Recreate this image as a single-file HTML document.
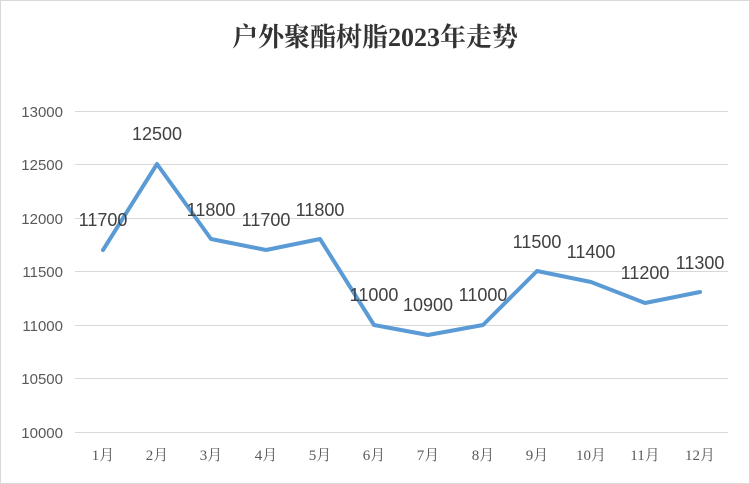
<!DOCTYPE html>
<html><head><meta charset="utf-8"><style>
body{margin:0;background:#fff}
svg{display:block}
</style></head><body>
<svg width="750" height="484" xmlns="http://www.w3.org/2000/svg" font-family="'Liberation Sans','Noto Sans CJK SC',sans-serif">
<rect x="0.5" y="0.5" width="749" height="483" fill="#fff" stroke="#d9d9d9"/>
<text x="375" y="46" text-anchor="middle" font-size="26" font-weight="bold" font-family="'Liberation Serif','Noto Serif CJK SC',serif" fill="#333">户外聚酯树脂2023年走势</text>
<g stroke="#d9d9d9" stroke-width="1">
<line x1="75" x2="728" y1="111.5" y2="111.5"/>
<line x1="75" x2="728" y1="164.5" y2="164.5"/>
<line x1="75" x2="728" y1="218.5" y2="218.5"/>
<line x1="75" x2="728" y1="271.5" y2="271.5"/>
<line x1="75" x2="728" y1="325.5" y2="325.5"/>
<line x1="75" x2="728" y1="378.5" y2="378.5"/>
<line x1="75" x2="728" y1="432.5" y2="432.5"/>
</g>
<g font-size="15" fill="#595959" text-anchor="end">
<text x="63" y="117">13000</text>
<text x="63" y="170">12500</text>
<text x="63" y="224">12000</text>
<text x="63" y="277">11500</text>
<text x="63" y="331">11000</text>
<text x="63" y="384">10500</text>
<text x="63" y="438">10000</text>
</g>
<g font-size="15" fill="#595959" text-anchor="middle" font-family="'Liberation Serif','Noto Serif CJK SC',serif">
<text x="103" y="460">1月</text><text x="157" y="460">2月</text><text x="211" y="460">3月</text>
<text x="266" y="460">4月</text><text x="320" y="460">5月</text><text x="374" y="460">6月</text>
<text x="428" y="460">7月</text><text x="483" y="460">8月</text><text x="537" y="460">9月</text>
<text x="591" y="460">10月</text><text x="645" y="460">11月</text><text x="700" y="460">12月</text>
</g>
<polyline fill="none" stroke="#5b9bd5" stroke-width="4" stroke-linejoin="round" stroke-linecap="round"
points="103,250 157,164 211,239 266,250 320,239 374,325 428,335 483,325 537,271 591,282 645,303 700,292"/>
<g font-size="18" fill="#404040" text-anchor="middle">
<text x="103" y="226">11700</text><text x="157" y="140">12500</text><text x="211" y="216">11800</text>
<text x="266" y="226">11700</text><text x="320" y="216">11800</text><text x="374" y="301">11000</text>
<text x="428" y="311">10900</text><text x="483" y="301">11000</text><text x="537" y="248">11500</text>
<text x="591" y="258">11400</text><text x="645" y="279">11200</text><text x="700" y="269">11300</text>
</g>
</svg>
</body></html>
